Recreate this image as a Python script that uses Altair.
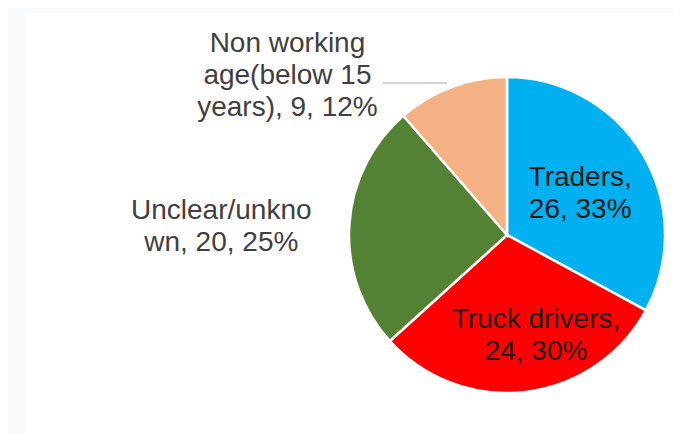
import math
import altair as alt
import pandas as pd

# ---- data ----
categories = ["Traders", "Truck drivers", "Unclear/unknown", "Non working age(below 15 years)"]
counts = [26, 24, 20, 9]
percents = ["33%", "30%", "25%", "12%"]
label_lines = [
    ["Traders,"],
    ["Truck drivers,"],
    ["Unclear/unkno", "wn,"],
    ["Non working", "age(below 15", "years),"],
]
colors = ["#00B0F0", "#FF0000", "#548235", "#F4B183"]

labels = []
for lines, c, p in zip(label_lines, counts, percents):
    if len(lines) == 1:
        labels.append(lines[0] + "\n" + f"{c}, {p}")
    else:
        labels.append("\n".join(lines[:-1]) + "\n" + lines[-1] + f" {c}, {p}")

df = pd.DataFrame({
    "category": categories,
    "count": counts,
    "order": list(range(len(categories))),
    "label": labels,
})

total = sum(counts)
CX, CY, R = 482, 222, 158
FONT = "Liberation Sans"
FS = 28
LH = 32

theta_scale = alt.Scale(domain=[0, total], range=[0, 2 * math.pi])

pie = alt.Chart(df).mark_arc(outerRadius=R, stroke="white", strokeWidth=2.5).encode(
    theta=alt.Theta("count:Q", stack=True, scale=theta_scale),
    color=alt.Color("category:N", scale=alt.Scale(domain=categories, range=colors), legend=None),
    order=alt.Order("order:Q"),
    x=alt.value(CX),
    y=alt.value(CY),
)


def label_layer(cat, radius, dx, dy, color):
    return (
        alt.Chart(df)
        .transform_window(cum="sum(count)", sort=[alt.SortField("order")], frame=[None, 0])
        .transform_calculate(mid="datum.cum - datum.count / 2")
        .transform_filter(alt.datum.category == cat)
        .mark_text(
            radius=radius, dx=dx, dy=dy, align="center", baseline="middle",
            fontSize=FS, lineHeight=LH, font=FONT, color=color, lineBreak="\n",
        )
        .encode(
            theta=alt.Theta("mid:Q", stack=False, scale=theta_scale),
            text="label:N",
            x=alt.value(CX),
            y=alt.value(CY),
        )
    )


leader = alt.Chart(df).transform_filter(alt.datum.order == 3).mark_rule(
    color="#A6A6A6", strokeWidth=1
).encode(x=alt.value(358), x2=alt.value(422), y=alt.value(70))

chart = alt.layer(
    pie,
    leader,
    label_layer(categories[0], 84, 1, -14, "#1A1A1A"),
    label_layer(categories[1], 101, 17, -15, "#1A1A1A"),
    label_layer(categories[2], 180, -106, -13, "#404040"),
    label_layer(categories[3], 170, -160, -32, "#404040"),
).properties(
    width=648, height=420,
    background="#F8F9FB",
    padding={"left": 17, "top": 5, "right": 0, "bottom": 0},
).configure_view(fill="white", stroke=None)

chart.save("out.html", embed_options={"renderer": "svg", "actions": False})
